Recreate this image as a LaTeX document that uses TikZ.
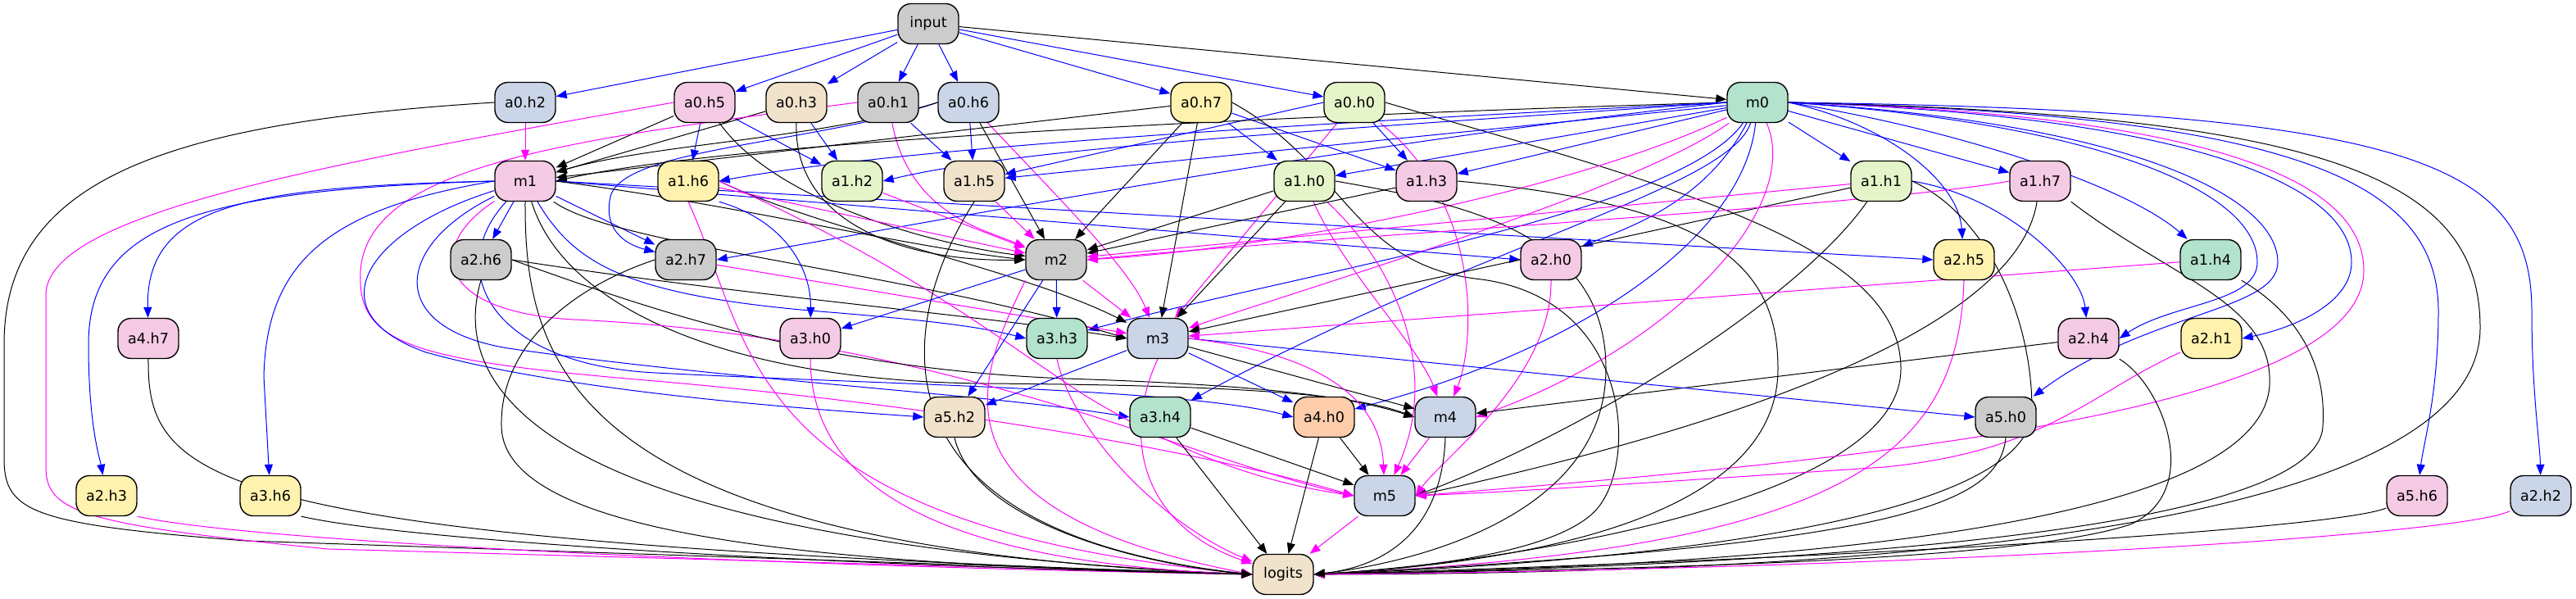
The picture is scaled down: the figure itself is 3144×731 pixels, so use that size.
\documentclass[tikz,border=0pt]{standalone}
\usepackage{fontspec}
\setmainfont{DejaVu Sans}
\usetikzlibrary{arrows.meta}
\pgfdeclarelayer{background}
\pgfsetlayers{background,main}
\definecolor{cTeal}{HTML}{B3E2CD}
\definecolor{cOrange}{HTML}{FDCDAC}
\definecolor{cBlue}{HTML}{CBD5E8}
\definecolor{cPink}{HTML}{F4CAE4}
\definecolor{cGreen}{HTML}{E6F5C9}
\definecolor{cYellow}{HTML}{FFF2AE}
\definecolor{cBeige}{HTML}{F1E2CC}
\definecolor{cGray}{HTML}{CCCCCC}
\definecolor{eMag}{RGB}{255,0,255}
\definecolor{eBlue}{RGB}{0,0,255}
\tikzset{
  nd/.style={draw, rounded corners=8pt, minimum width=37pt, minimum height=24.5pt,
    line width=0.7pt, inner sep=0pt, font=\fontsize{8.8}{10}\selectfont},
  tip/.style={-{Triangle[length=6.5pt,width=5pt]}},
  eb/.style={draw=eBlue, line width=0.5pt, tip},
  em/.style={draw=eMag, line width=0.5pt, tip},
  ek/.style={draw=black, line width=0.5pt, tip},
}
\begin{document}
\begin{tikzpicture}[x=0.5pt,y=-0.5pt]
\useasboundingbox (0,0) rectangle (3144,731);
% nodes
\node[nd,fill=cGray]   (input)  at (1133,29)  {input};
\node[nd,fill=cBlue]   (a0h2)   at (641,125)  {a0.h2};
\node[nd,fill=cPink]   (a0h5)   at (860,125)  {a0.h5};
\node[nd,fill=cBeige]  (a0h3)   at (972,125)  {a0.h3};
\node[nd,fill=cGray]   (a0h1)   at (1084,125) {a0.h1};
\node[nd,fill=cBlue]   (a0h6)   at (1182,125) {a0.h6};
\node[nd,fill=cYellow] (a0h7)   at (1466,125) {a0.h7};
\node[nd,fill=cGreen]  (a0h0)   at (1653,125) {a0.h0};
\node[nd,fill=cTeal]   (m0)     at (2145,125) {m0};
\node[nd,fill=cPink]   (m1)     at (641,221)  {m1};
\node[nd,fill=cYellow] (a1h6)   at (840,221)  {a1.h6};
\node[nd,fill=cGreen]  (a1h2)   at (1040,221) {a1.h2};
\node[nd,fill=cBeige]  (a1h5)   at (1189,221) {a1.h5};
\node[nd,fill=cGreen]  (a1h0)   at (1592,221) {a1.h0};
\node[nd,fill=cPink]   (a1h3)   at (1741,221) {a1.h3};
\node[nd,fill=cGreen]  (a1h1)   at (2296,221) {a1.h1};
\node[nd,fill=cPink]   (a1h7)   at (2490,221) {a1.h7};
\node[nd,fill=cGray]   (a2h6)   at (587,317)  {a2.h6};
\node[nd,fill=cGray]   (a2h7)   at (837,317)  {a2.h7};
\node[nd,fill=cGray]   (m2)     at (1289,317) {m2};
\node[nd,fill=cPink]   (a2h0)   at (1893,317) {a2.h0};
\node[nd,fill=cYellow] (a2h5)   at (2397,317) {a2.h5};
\node[nd,fill=cTeal]   (a1h4)   at (2698,317) {a1.h4};
\node[nd,fill=cPink]   (a4h7)   at (181,413)  {a4.h7};
\node[nd,fill=cPink]   (a3h0)   at (989,413)  {a3.h0};
\node[nd,fill=cTeal]   (a3h3)   at (1290,413) {a3.h3};
\node[nd,fill=cBlue]   (m3)     at (1413,413) {m3};
\node[nd,fill=cPink]   (a2h4)   at (2549,413) {a2.h4};
\node[nd,fill=cYellow] (a2h1)   at (2699,413) {a2.h1};
\node[nd,fill=cBeige]  (a5h2)   at (1165,509) {a5.h2};
\node[nd,fill=cTeal]   (a3h4)   at (1416,509) {a3.h4};
\node[nd,fill=cOrange] (a4h0)   at (1616,509) {a4.h0};
\node[nd,fill=cBlue]   (m4)     at (1764,509) {m4};
\node[nd,fill=cGray]   (a5h0)   at (2448,509) {a5.h0};
\node[nd,fill=cYellow] (a2h3)   at (130,605)  {a2.h3};
\node[nd,fill=cYellow] (a3h6)   at (330,605)  {a3.h6};
\node[nd,fill=cBlue]   (m5)     at (1690,605) {m5};
\node[nd,fill=cPink]   (a5h6)   at (2950,605) {a5.h6};
\node[nd,fill=cBlue]   (a2h2)   at (3101,605) {a2.h2};
\node[nd,fill=cBeige]  (logits) at (1566,701) {logits};

\begin{pgfonlayer}{background}
% input
\draw[eb] (input) -- (a0h2);
\draw[eb] (input) -- (a0h5);
\draw[eb] (input) -- (a0h3);
\draw[eb] (input) -- (a0h1);
\draw[eb] (input) -- (a0h6);
\draw[eb] (input) -- (a0h7);
\draw[eb] (input) -- (a0h0);
\draw[ek] (input) -- (m0);
% a0.h2
\draw[em] (a0h2) -- (m1);
\draw[ek] (a0h2.west) .. controls (200,150) and (5,220) .. (5,420) -- (5,560) .. controls (5,625) and (40,640) .. (300,660) -- (logits.west);
% a0.h5
\draw[em] (a0h5.west) .. controls (400,200) and (56,260) .. (56,360) -- (56,570) .. controls (56,625) and (100,640) .. (400,670) -- (logits.west);
\draw[ek] (a0h5) -- (m1);
\draw[eb] (a0h5) -- (a1h6);
\draw[eb] (a0h5) -- (a1h2);
\draw[ek] (a0h5) .. controls (950,250) and (1150,300) .. (m2);
% a0.h3
\draw[ek] (a0h3) -- (m1);
\draw[eb] (a0h3) -- (a1h2);
\draw[ek] (a0h3.south) .. controls (968,270) and (1100,320) .. (m2.west);
% a0.h1
\draw[eb] (a0h1) -- (a1h5);
\draw[em] (a0h1) .. controls (1110,260) and (1200,280) .. (m2);
\draw[em] (a0h1.west) .. controls (700,170) and (450,200) .. (440,330) .. controls (435,420) and (500,440) .. (800,465) .. controls (1200,500) and (1500,560) .. (m5.west);
% a0.h6
\draw[eb] (a0h6) -- (a1h5);
\draw[ek] (a0h6) -- (m2);
\draw[em] (a0h6) .. controls (1300,250) and (1380,330) .. (m3);
\draw[eb] (a0h6.west) .. controls (1000,175) and (760,180) .. (745,240) .. controls (735,285) and (770,300) .. (a2h7);
\draw[ek] (a0h6.west) .. controls (1000,170) and (800,175) .. (m1);
% a0.h7
\draw[ek] (a0h7) -- (m1);
\draw[ek] (a0h7) -- (m2);
\draw[ek] (a0h7) -- (m3);
\draw[eb] (a0h7) -- (a1h0);
\draw[eb] (a0h7) -- (a1h3);
\draw[ek] (a0h7.east) .. controls (1640,200) and (1650,320) .. (1800,340) .. controls (1990,360) and (2000,560) .. (1950,620) .. controls (1900,680) and (1700,695) .. (logits.east);
% a0.h0
\draw[eb] (a0h0) -- (a1h3);
\draw[eb] (a0h0.west) -- (a1h5);
\draw[em] (a0h0) -- (m3);
\draw[em] (a0h0) .. controls (1810,250) and (1800,420) .. (m4);
\draw[ek] (a0h0.east) .. controls (2050,230) and (2320,300) .. (2320,450) .. controls (2320,620) and (1800,690) .. (logits.east);
% m0
\draw[ek] (m0.west) .. controls (1600,140) and (900,170) .. (m1.east);
\draw[eb] (m0.west) .. controls (1600,150) and (1100,180) .. (a1h6.east);
\draw[eb] (m0.west) .. controls (1600,160) and (1250,180) .. (a1h2.east);
\draw[eb] (m0) -- (a1h5);
\draw[eb] (m0) -- (a1h0);
\draw[eb] (m0) -- (a1h3);
\draw[eb] (m0) -- (a1h1);
\draw[eb] (m0) -- (a1h7);
\draw[eb] (m0.west) .. controls (1700,170) and (1300,240) .. (a2h7.east);
\draw[eb] (m0) .. controls (2080,250) and (1980,280) .. (a2h0);
\draw[eb] (m0) .. controls (2050,260) and (1600,330) .. (a3h3);
\draw[eb] (m0) .. controls (2110,230) and (1800,300) .. (a3h4);
\draw[eb] (m0) .. controls (2130,280) and (1950,420) .. (a4h0);
\draw[eb] (m0.east) .. controls (2300,150) and (2390,220) .. (a2h5);
\draw[eb] (m0.east) .. controls (2400,160) and (2600,230) .. (a1h4);
\draw[eb] (m0.east) .. controls (2550,150) and (2755,230) .. (2755,320) .. controls (2755,370) and (2650,370) .. (a2h4.east);
\draw[eb] (m0.east) .. controls (2650,140) and (2870,220) .. (2870,320) .. controls (2870,370) and (2800,400) .. (a2h1.east);
\draw[eb] (m0.east) .. controls (2600,150) and (2780,240) .. (2780,320) .. controls (2780,380) and (2620,380) .. (a5h0);
\draw[em] (m0.east) .. controls (2700,140) and (2885,220) .. (2885,330) .. controls (2885,500) and (2300,560) .. (m5.east);
\draw[eb] (m0.east) .. controls (2800,140) and (2976,220) .. (2976,380) .. controls (2976,480) and (2958,540) .. (a5h6);
\draw[ek] (m0.east) .. controls (2850,140) and (3027,220) .. (3027,400) .. controls (3027,660) and (2200,700) .. (logits.east);
\draw[eb] (m0.east) .. controls (2950,135) and (3090,200) .. (3090,380) .. controls (3090,480) and (3100,540) .. (a2h2);
\draw[em] (m0) .. controls (1950,220) and (1600,300) .. (m2.east);
\draw[em] (m0) .. controls (2000,230) and (1600,350) .. (m3);
\draw[em] (m0) .. controls (2200,250) and (2050,420) .. (m4.east);
% m1
\draw[eb] (m1) -- (a2h6);
\draw[eb] (m1) -- (a2h7);
\draw[eb] (m1.west) .. controls (300,228) and (178,250) .. (a4h7);
\draw[eb] (m1.west) .. controls (250,232) and (108,270) .. (108,420) .. controls (108,520) and (122,560) .. (a2h3);
\draw[eb] (m1.west) .. controls (400,255) and (325,320) .. (322,460) -- (a3h6);
\draw[eb] (m1) .. controls (450,280) and (380,380) .. (520,430) .. controls (700,480) and (1000,500) .. (a5h2.west);
\draw[eb] (m1) .. controls (480,300) and (470,400) .. (620,425) .. controls (900,465) and (1200,480) .. (a3h4.west);
\draw[eb] (m1) .. controls (540,330) and (600,445) .. (800,455) .. controls (1100,470) and (1450,475) .. (a4h0.west);
\draw[eb] (m1) .. controls (700,320) and (760,360) .. (1000,380) .. controls (1150,392) and (1200,400) .. (a3h3.west);
\draw[eb] (m1.east) -- (a2h0.west);
\draw[eb] (m1.east) -- (a2h5.west);
\draw[ek] (m1.east) .. controls (900,250) and (1100,300) .. (m2.west);
\draw[ek] (m1) .. controls (750,300) and (1100,330) .. (m3.west);
\draw[ek] (m1) .. controls (690,380) and (900,465) .. (1200,468) .. controls (1500,470) and (1650,480) .. (m4.west);
\draw[ek] (m1.south) .. controls (640,450) and (700,670) .. (logits.west);
\draw[em] (m1) .. controls (520,300) and (530,380) .. (700,390) .. controls (1150,410) and (1450,560) .. (m5.west);
% a2.h6
\draw[ek] (a2h6.east) .. controls (900,360) and (1200,385) .. (m3.west);
\draw[ek] (a2h6.east) .. controls (800,380) and (1000,450) .. (1300,462) .. controls (1550,470) and (1650,485) .. (m4.west);
\draw[ek] (a2h6.south) .. controls (555,450) and (600,660) .. (logits.west);
% a2.h7
\draw[em] (a2h7) -- (m3);
\draw[ek] (a2h7.west) .. controls (700,350) and (610,420) .. (612,520) .. controls (614,670) and (1100,690) .. (logits.west);
% a1.h6
\draw[eb] (a1h6.south east) .. controls (960,270) and (990,330) .. (a3h0);
\draw[em] (a1h6) -- (m2);
\draw[ek] (a1h6.east) .. controls (1000,280) and (1250,330) .. (m3);
\draw[em] (a1h6.east) .. controls (1100,320) and (1200,400) .. (1320,480) .. controls (1450,560) and (1550,590) .. (m5.west);
\draw[em] (a1h6.south) .. controls (920,420) and (900,640) .. (logits.west);
% a1.h2, a1.h5
\draw[em] (a1h2) -- (m2);
\draw[em] (a1h5) -- (m2);
\draw[ek] (a1h5.south) .. controls (1090,400) and (1060,650) .. (logits.west);
% a1.h0
\draw[ek] (a1h0) -- (m2);
\draw[ek] (a1h0) -- (m3);
\draw[em] (a1h0) .. controls (1640,330) and (1730,420) .. (m4);
\draw[em] (a1h0) .. controls (1700,320) and (1760,450) .. (m5);
\draw[ek] (a1h0.east) .. controls (1800,250) and (1960,290) .. (1960,450) .. controls (1960,640) and (1700,690) .. (logits.east);
% a1.h3
\draw[ek] (a1h3) -- (m2);
\draw[ek] (a1h3.east) .. controls (2100,250) and (2170,330) .. (2170,450) .. controls (2170,650) and (1800,690) .. (logits.east);
% a1.h1
\draw[eb] (a1h1.east) .. controls (2450,240) and (2540,330) .. (a2h4);
\draw[em] (a1h1) -- (m2);
\draw[ek] (a1h1) -- (m3);
\draw[ek] (a1h1) .. controls (2200,360) and (1950,520) .. (m5.east);
\draw[ek] (a1h1.east) .. controls (2420,260) and (2480,380) .. (2480,500) .. controls (2480,650) and (1900,690) .. (logits.east);
% a1.h7
\draw[em] (a1h7.west) .. controls (2300,250) and (1600,290) .. (m2.east);
\draw[ek] (a1h7) .. controls (2470,350) and (2300,480) .. (m5.east);
\draw[ek] (a1h7.south east) .. controls (2650,340) and (2775,370) .. (2770,470) .. controls (2760,640) and (2200,690) .. (logits.east);
% a2.h0, a2.h5, a1.h4
\draw[em] (a2h0.south) .. controls (1895,460) and (1760,560) .. (m5.east);
\draw[em] (a2h5.south) .. controls (2390,560) and (2250,670) .. (logits.east);
\draw[em] (a1h4) -- (m3);
\draw[ek] (a1h4.south east) .. controls (2800,380) and (2840,440) .. (2835,520) .. controls (2830,650) and (2200,690) .. (logits.east);
% a2.h4, a2.h1, a5.h0, a5.h6, a2.h2
\draw[ek] (a2h4) -- (m4);
\draw[ek] (a2h4.south east) .. controls (2640,470) and (2690,600) .. (2600,640) .. controls (2450,690) and (1900,695) .. (logits.east);
\draw[em] (a2h1) .. controls (2550,480) and (2500,550) .. (2300,570) .. controls (2000,590) and (1850,600) .. (m5.east);
\draw[ek] (a5h0.south) .. controls (2440,620) and (2300,665) .. (logits.east);
\draw[ek] (a5h6) .. controls (2850,645) and (2300,680) .. (logits.east);
\draw[em] (a2h2) .. controls (3000,655) and (2300,695) .. (logits.east);
% m2
\draw[eb] (m2) -- (a3h0);
\draw[eb] (m2) -- (a3h3);
\draw[eb] (m2) -- (a5h2);
\draw[em] (m2) -- (m3);
\draw[em] (m2.south west) .. controls (1200,450) and (1110,620) .. (logits.west);
% m3
\draw[eb] (m3) -- (a5h2);
\draw[eb] (m3) -- (a4h0);
\draw[eb] (m3.east) -- (a5h0.west);
\draw[ek] (m3) -- (m4);
\draw[em] (m3.east) .. controls (1600,430) and (1685,480) .. (m5);
\draw[em] (m3.south) .. controls (1370,530) and (1390,640) .. (logits);
% lower layers
\draw[em] (a3h0.south) .. controls (990,570) and (1100,685) .. (logits.west);
\draw[em] (a3h3.south) .. controls (1310,530) and (1420,640) .. (logits);
\draw[ek] (a5h2.south) .. controls (1190,640) and (1400,690) .. (logits.west);
\draw[ek] (a3h4) -- (m5);
\draw[ek] (a3h4) -- (logits);
\draw[ek] (a4h0) -- (m5);
\draw[ek] (a4h0) -- (logits);
\draw[em] (m4) -- (m5);
\draw[ek] (m4.south) .. controls (1760,640) and (1700,690) .. (logits.east);
\draw[em] (m5) -- (logits);
\draw[ek] (a4h7.south) .. controls (180,590) and (250,660) .. (logits.west);
\draw[em] (a2h3.south east) .. controls (300,660) and (900,690) .. (logits.west);
\draw[ek] (a3h6.south east) .. controls (500,660) and (1000,690) .. (logits.west);
\end{pgfonlayer}
\end{tikzpicture}
\end{document}
